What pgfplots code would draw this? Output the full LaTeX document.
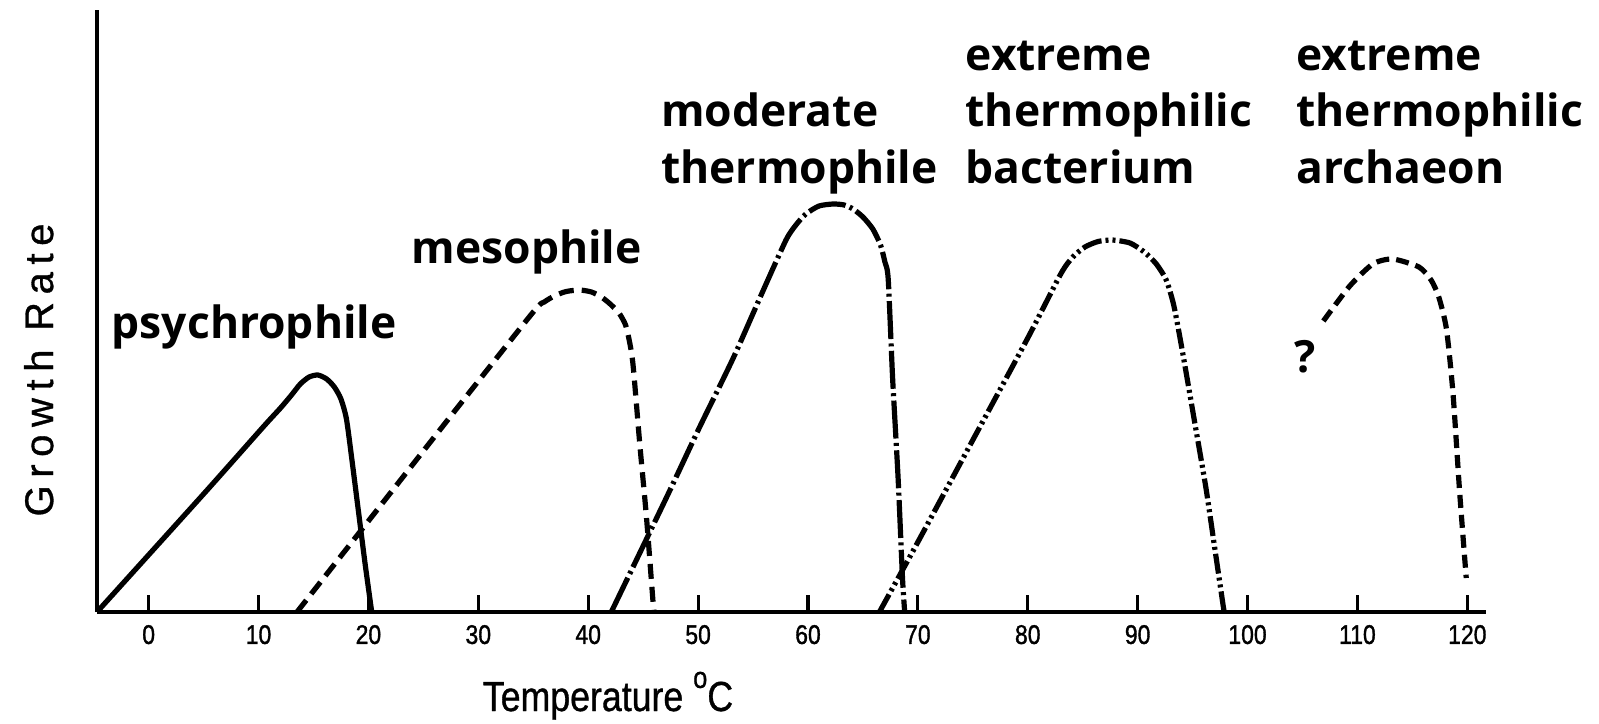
\documentclass[border=0pt]{standalone}
\usepackage{fontspec}
\usepackage{pgfplots}
\pgfplotsset{compat=1.18}
\setmainfont{Open Sans}
\newfontfamily\tickfont{Liberation Sans}[FakeStretch=0.85, FakeBold=1.2]
\newfontfamily\xlabfont{Liberation Sans}[FakeStretch=0.85, FakeBold=0.8]
\newfontfamily\ylabfont{Liberation Sans}[LetterSpace=19, FakeBold=0.8]
\newcommand\lbl{\bfseries\fontsize{22.2pt}{26pt}\selectfont}

\begin{document}
\begin{tikzpicture}
\path[use as bounding box] (-48.5pt,-55.5pt) rectangle (751pt,306pt);
\begin{axis}[
  scale only axis, width=694.5pt, height=301pt,
  xmin=-4.7, xmax=121.7, ymin=0, ymax=602,
  axis x line=bottom, axis y line=left,
  axis line style={-, line width=2.2pt, black},
  xtick={0,10,...,120}, ytick=\empty,
  tick align=inside, major tick length=8.5pt,
  x tick style={line width=1.6pt, black},
  xticklabel style={font=\tickfont\fontsize{13.5pt}{15pt}\selectfont, yshift=-3pt},
  /pgf/number format/assume math mode=true,
  clip=false,
  every axis plot/.append style={line width=2.6pt, black, smooth, tension=0.4, no markers},
]
% psychrophile (solid)
\addplot[solid] coordinates {(-4.7,0) (5,118) (10.5,186) (12,204) (13,217) (13.8,228) (14.6,235) (15.4,237) (16.2,233) (16.9,225) (17.5,213) (18.0,193) (18.5,152) (19.1,100) (19.7,48) (20.3,0)};
% mesophile (dashed)
\addplot[dash pattern=on 7.5pt off 4pt] coordinates {(13.5,0) (21,105) (28,203) (35,300) (36,310) (37,316.5) (38,320.5) (39.2,322) (40.3,320) (41.2,315) (42,308) (42.8,299) (43.4,287) (43.8,268) (44.1,245) (44.7,167) (45.3,95) (45.9,10) (46.0,0)};
% moderate thermophile (dash-dot)
\addplot[dash pattern=on 19pt off 2.2pt on 1.5pt off 2.2pt] coordinates {(42.1,0) (47.1,114) (50.1,184) (53.2,254) (55.9,321) (58,372) (58.9,387) (59.8,398) (61,406) (62.3,408) (63.3,407) (64.1,403) (65,395) (65.9,383) (66.6,367) (67.0,350) (67.3,333) (67.7,234) (68.2,134) (68.6,34) (68.8,0)};
% extreme thermophilic bacterium (dash-dot-dot)
\addplot[dash pattern=on 10pt off 2pt on 1.5pt off 2pt on 1.5pt off 2pt] coordinates {(66.5,0) (70,70) (75,172) (80,274) (83,338) (84.1,355) (85.2,365) (86.4,370.5) (87.7,372) (89.3,369) (90.6,360) (91.7,348) (92.6,332) (93.3,306) (94.1,259) (95.2,189) (96.2,125) (97.0,65) (97.8,5) (97.9,0)};
% extreme thermophilic archaeon (dashed)
\addplot[dash pattern=on 6.5pt off 3.5pt] coordinates {(106.9,291) (109.3,326) (111.4,348) (113.2,353) (115.6,345) (116.7,332) (117.4,315) (118.1,283) (118.7,218) (119.3,120) (119.9,34)};

\node[anchor=base west, font=\lbl] at (axis cs:-4.0,274) {psychrophile};
\node[anchor=base west, font=\lbl] at (axis cs:23.3,349) {mesophile};
\node[anchor=base west, font=\lbl] at (axis cs:46.0,485) {moderate};
\node[anchor=base west, font=\lbl] at (axis cs:46.0,429) {thermophile};
\node[anchor=base west, font=\lbl] at (axis cs:73.7,541) {extreme};
\node[anchor=base west, font=\lbl] at (axis cs:73.7,485) {thermophilic};
\node[anchor=base west, font=\lbl] at (axis cs:73.7,429) {bacterium};
\node[anchor=base west, font=\lbl] at (axis cs:103.8,541) {extreme};
\node[anchor=base west, font=\lbl] at (axis cs:103.8,485) {thermophilic};
\node[anchor=base west, font=\lbl] at (axis cs:103.8,429) {archaeon};
\node[anchor=base west, font=\lbl] at (axis cs:103.6,240) {?};
\node[anchor=base, font=\xlabfont\fontsize{21pt}{24pt}\selectfont] at (axis cs:41.8,-99) {Temperature \raisebox{0.55em}{\fontsize{15pt}{15pt}\selectfont o}C};
\node[rotate=90, font=\ylabfont\fontsize{20pt}{24pt}\selectfont] at (axis cs:-10.0,242) {Growth Rate};
\end{axis}
\end{tikzpicture}
\end{document}
